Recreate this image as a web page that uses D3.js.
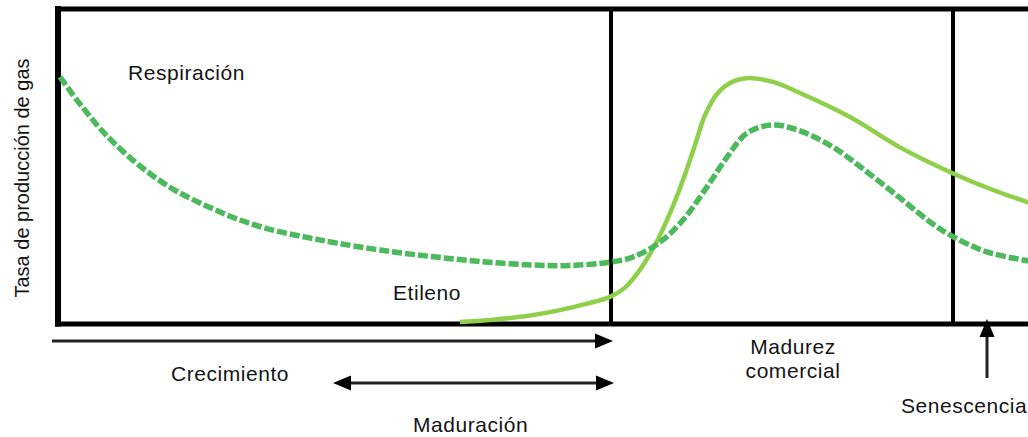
<!DOCTYPE html>
<html><head><meta charset="utf-8">
<script src="https://cdn.jsdelivr.net/npm/d3@7"></script>
<style>
body{margin:0;background:#fff}
svg{display:block}
text{font-family:"Liberation Sans",Arial,Helvetica,sans-serif;fill:#141414}
</style>
</head><body>
<svg id="chart" width="1028" height="437"></svg>
<script>
// ---- data (time units on x, relative gas production rate on y) ----
const respTime = [0, 2, 4.7, 8, 11.3, 14.7, 18, 21.3, 24.7, 27.7, 32, 37, 42, 47, 51, 55, 57.3, 60, 62.3, 64.7, 66.7, 68.7, 71.3, 74, 77.3, 80.7, 84, 87, 89.2, 92.7, 97];
const respRate = [78.2, 69.6, 59.5, 50.0, 42.7, 37.3, 32.9, 29.7, 27.4, 25.6, 23.4, 21.4, 19.8, 18.7, 18.5, 19.6, 21.2, 25.9, 32.9, 43.4, 52.8, 60.4, 63.0, 61.1, 56.0, 48.1, 39.9, 32.3, 27.8, 22.8, 19.9];
const etilTime = [40, 44, 47, 50, 52.5, 55, 56.5, 58, 59.5, 61, 62.3, 63.5, 64.5, 65.7, 67, 68.7, 71.3, 74, 79, 84, 89.2, 93.3, 97];
const etilRate = [0.6, 1.6, 2.7, 4.4, 6.3, 8.6, 11.5, 17.2, 25.0, 35.1, 45.6, 56.6, 66.1, 72.8, 76.3, 77.8, 76.6, 73.1, 65.5, 55.9, 47.8, 42.4, 38.3];
const stageLines = [55.1, 89.3];           // commercial maturity / senescence boundaries
const phaseNames = ["Crecimiento", "Maduración"];
const phaseStart = [-0.8, 27.3];
const phaseEnd = [55.3, 55.4];
const senescenceAt = 92.7;
const yLabel = "Tasa de producción de gas";
const curveLabels = ["Respiración", "Etileno"];
const zoneLabel = ["Madurez", "comercial"];
const senLabel = "Senescencia";

// ---- scales ----
const svg = d3.select("#chart");
const x = d3.scaleLinear().domain([0, 97]).range([60, 1030]);
const y = d3.scaleLinear().domain([0, 100]).range([324, 8]);

const colResp = "#4cb95c", colEtil = "#8fd04a";
const FS = 21, LS = 0.55;

// frame
const frameL = x(-0.2), frameT = y(99.7), frameB = y(0);
svg.append("line").attr("x1", frameL).attr("x2", frameL).attr("y1", frameT - 3).attr("y2", frameB + 2.5)
  .attr("stroke", "#000").attr("stroke-width", 6);
svg.append("line").attr("x1", frameL - 3).attr("x2", 1030).attr("y1", frameT).attr("y2", frameT)
  .attr("stroke", "#000").attr("stroke-width", 5);
svg.append("line").attr("x1", frameL - 3).attr("x2", 1030).attr("y1", frameB).attr("y2", frameB)
  .attr("stroke", "#000").attr("stroke-width", 5);
svg.selectAll("line.stage").data(stageLines).enter().append("line").attr("class", "stage")
  .attr("x1", d => x(d)).attr("x2", d => x(d)).attr("y1", frameT).attr("y2", frameB)
  .attr("stroke", "#000").attr("stroke-width", 4);

// curves
const line = d3.line().x(d => x(d[0])).y(d => y(d[1])).curve(d3.curveCatmullRom.alpha(0.5));
svg.append("path").datum(etilTime.map((t, i) => [t, etilRate[i]]))
  .attr("d", line).attr("fill", "none").attr("stroke", colEtil).attr("stroke-width", 4.5);
svg.append("path").datum(respTime.map((t, i) => [t, respRate[i]]))
  .attr("d", line).attr("fill", "none").attr("stroke", colResp).attr("stroke-width", 5.5)
  .attr("stroke-dasharray", "10,3");

// labels
function label(tx, ty, s, anchor) {
  return svg.append("text").attr("x", tx).attr("y", ty).attr("font-size", FS)
    .attr("letter-spacing", LS).attr("text-anchor", anchor || "start").text(s);
}
label(x(6.8), 80, curveLabels[0]);
label(x(33.3), 300, curveLabels[1]);
svg.append("text").attr("transform", "translate(29,178) rotate(-90)").attr("text-anchor", "middle")
  .attr("font-size", 20).text(yLabel);

// arrows
function head(px, py, dir) { // dir: 1 right, -1 left, "up"
  const L = 18, W = 7.5;
  if (dir === "up") return `M${px},${py} L${px - W},${py + L} L${px + W},${py + L} Z`;
  return `M${px},${py} L${px - dir * L},${py - W} L${px - dir * L},${py + W} Z`;
}
const arrowY = [341, 383];
phaseStart.forEach((s, i) => {
  const yy = arrowY[i];
  const x0 = x(s), x1 = x(phaseEnd[i]);
  svg.append("line").attr("x1", i === 1 ? x0 + 10 : x0).attr("x2", x1 - 10).attr("y1", yy).attr("y2", yy)
    .attr("stroke", "#222").attr("stroke-width", 3);
  svg.append("path").attr("d", head(x1, yy, 1)).attr("fill", "#000");
  if (i === 1) svg.append("path").attr("d", head(x0, yy, -1)).attr("fill", "#000");
});
label(x(11.1), 381, phaseNames[0]);
label(x(35.3), 432, phaseNames[1]);

// zone label
label(x(73.3), 354, zoneLabel[0], "middle");
label(x(73.3), 378, zoneLabel[1], "middle");

// senescence arrow
const sx = x(senescenceAt);
svg.append("line").attr("x1", sx).attr("x2", sx).attr("y1", 378).attr("y2", 334).attr("stroke", "#222").attr("stroke-width", 3);
svg.append("path").attr("d", head(sx, 319, "up")).attr("fill", "#000");
label(x(84.1), 413, senLabel);
</script>
</body></html>
